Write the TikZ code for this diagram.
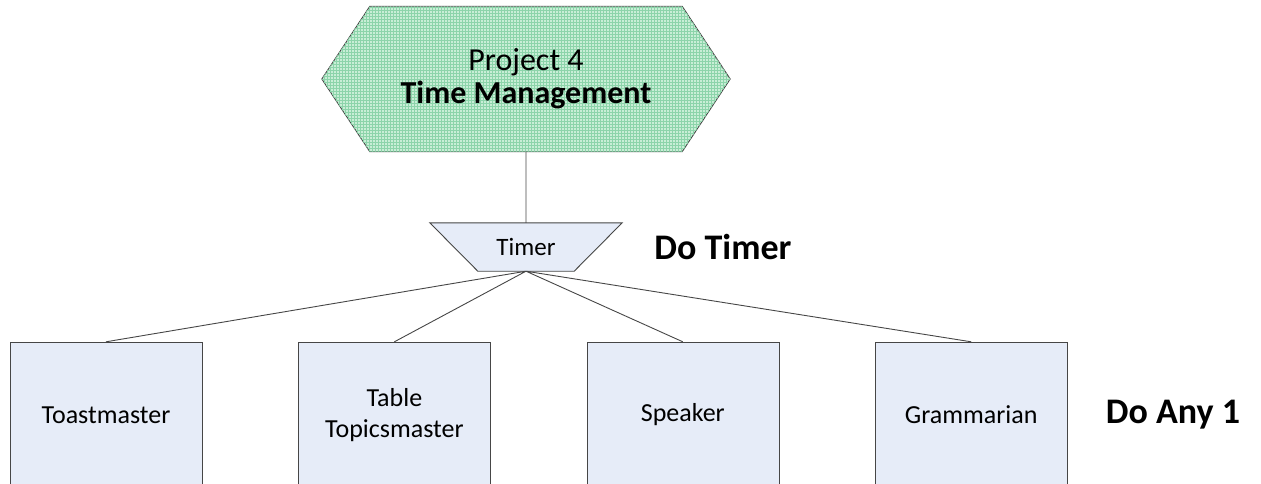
\documentclass[tikz,border=0pt]{standalone}
\usepackage{fontspec}
\setmainfont{Carlito}
\usepackage{tikz}
\usetikzlibrary{shapes,positioning,backgrounds,patterns}
\definecolor{mint}{RGB}{200,238,214}
\definecolor{mintgrid}{RGB}{140,212,170}
\definecolor{paleblue}{RGB}{230,236,248}
\definecolor{edgegray}{RGB}{70,70,70}

\begin{document}
\begin{tikzpicture}[x=1pt,y=-1pt,% pixel units, y runs down
			every node/.style={
				align=center,		% so that "\\" breaks the line
				inner sep=0pt
			},
			role/.style={rectangle,draw=edgegray,fill=paleblue,minimum width=192pt,minimum height=146pt,font=\fontsize{26}{31}\selectfont},
			note/.style={font=\fontsize{36}{40}\selectfont\bfseries},
			link/.style={draw=edgegray,line width=0.9pt}
		]
		\useasboundingbox (0,0) rectangle (1261,484);
		\clip (0,0) rectangle (1261,484);
		\node[rectangle,minimum width=408pt,minimum height=145pt,font=\fontsize{32}{33}\selectfont](P4) at (526,79){Project 4\\ \textbf{Time Management}};
		\node[rectangle,minimum width=96pt,minimum height=48pt,font=\fontsize{25}{28}\selectfont](T) at (526,247){Timer};
		\begin{scope}[on background layer]
		% hexagon round the project
		\path[draw=edgegray,line width=0.9pt,fill=mint,postaction={pattern=grid,pattern color=mintgrid}]
		(P4.west) -- ([xshift=48pt]P4.north west) -- ([xshift=-48pt]P4.north east) -- (P4.east)
		-- ([xshift=-48pt]P4.south east) -- ([xshift=48pt]P4.south west) -- cycle;
		% funnel round the timer
		\path[draw=edgegray,line width=0.9pt,fill=paleblue]
		(T.south west) -- (T.south east) -- ([xshift=48pt]T.north east) -- ([xshift=-48pt]T.north west) -- cycle;
		\end{scope}
		\node[note](DT) at (723,247){Do Timer};
		\node[role](R1) at (106,415){Toastmaster};
		\node[role](R2)[right=96pt of R1]{Table\\ Topicsmaster};
		\node[role](R3)[right=96pt of R2]{Speaker};
		\node[role](R4)[right=96pt of R3]{Grammarian};
		\node[note](DA) at (1173,415){Do Any 1};
		\path[link]
		(P4.south) -- (T.north)
		(T.south) -- (R1.north)
		(T.south) -- (R2.north)
		(T.south) -- (R3.north)
		(T.south) -- (R4.north)
		;
	\end{tikzpicture}
\end{document}
